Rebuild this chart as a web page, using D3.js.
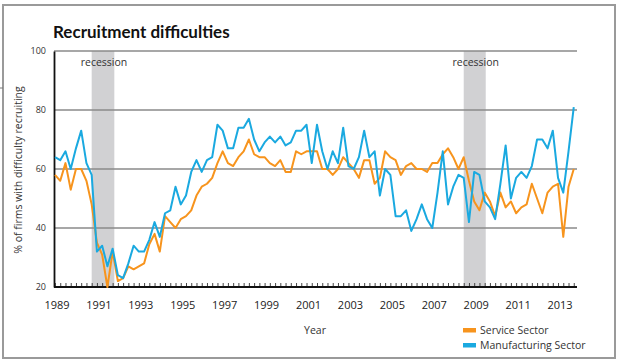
<!DOCTYPE html>
<html><head><meta charset="utf-8">
<script src="https://cdn.jsdelivr.net/npm/d3@7"></script>
<style>body{margin:0;background:#fff}svg{display:block}</style>
</head><body><svg id="c" width="620" height="360"></svg>
<script>
const startYear = 1989;
const seriesNames = ["Service Sector", "Manufacturing Sector"];
const service = [58,56,62,53,60,60,56,48,35,31,20,32,22,23,27,26,27,28,34.5,38,
  32,44,42,40,43,44,46,51,54,55,57,62,66,62,61,64,66,70,65,64,
  64,62,61,63,59,59,66,65,66,66,66,60,60,58,60,64,62,60,57,63,
  63,55,57,66,64,63,58,61,62,60,60,59,62,62,65,67,64,60,64,56,
  49,46,52,49,44,52,47,49,45,47,48,55,50,45,52,54,55,37,54,60];
const manufacturing = [64,63,66,60,67,73,62,58,32,34,27,33,24,23,28,34,32,32,36,42,
  37,45,46,54,48,51,59,63,59,63,64,75,73,67,67,74,74,77,70,66,
  69,71,69,71,68,69,73,73,75,62,75,66,60,66,62,74,61,60,64,73,
  64,66,51,60,58,44,44,46,39,43,48,43,40,52,66,48,54,58,57,42,
  59,58,49,47,43,55,68,50,57,59,57,61,70,70,67,73,57,52,66,81];
const yTicks = [20,40,60,80,100];
const gridValues = [40,60,80,100];
const yearLabels = [1989,1991,1993,1995,1997,1999,2001,2003,2005,2007,2009,2011,2013];
const recessions = [[1990.75,1991.83],[2008.5,2009.55]];
const colors = ["#f7941d", "#1aa9e0"];

const svg = d3.select("#c");
const x = d3.scaleLinear().domain([1989, 2014]).range([55, 579]);
const y = d3.scaleLinear().domain([20, 100]).range([287, 51]);
const left = 54, right = 577;
const font = "'Open Sans', sans-serif";

// frame
svg.append("rect").attr("x",3).attr("y",5).attr("width",612).attr("height",353)
  .attr("fill","none").attr("stroke","#9a9a9a").attr("stroke-width",2);
svg.append("line").attr("x1",0).attr("x2",3).attr("y1",88).attr("y2",88)
  .attr("stroke","#777").attr("stroke-width",1);

// title
svg.append("text").attr("x",53).attr("y",38).text("Recruitment difficulties")
  .attr("font-family","'Lato', sans-serif").attr("font-weight",700)
  .attr("font-size",17).attr("fill","#111");

// recession bands
svg.selectAll("rect.rec").data(recessions).enter().append("rect").attr("class","rec")
  .attr("x",d=>x(d[0])).attr("width",d=>x(d[1])-x(d[0]))
  .attr("y",y(100)).attr("height",y(20)-y(100)).attr("fill","#d1d1d3");
svg.selectAll("text.rec").data(recessions).enter().append("text").attr("class","rec")
  .attr("x",d=>(x(d[0])+x(d[1]))/2+1).attr("y",66).attr("text-anchor","middle")
  .attr("font-family",font).attr("font-size",10.5).attr("fill","#333").text("recession");

// gridlines
svg.selectAll("line.grid").data(gridValues).enter().append("line").attr("class","grid")
  .attr("x1",left).attr("x2",right).attr("y1",d=>y(d)).attr("y2",d=>y(d))
  .attr("stroke","#8a8a8a").attr("stroke-width",1.4);

// y axis
const yAxis = d3.axisLeft(y).tickValues(yTicks).tickSize(0).tickPadding(8);
const ya = svg.append("g").attr("transform",`translate(${left},0)`).call(yAxis);
ya.select(".domain").attr("stroke","#111").attr("stroke-width",1.8);
ya.selectAll("text").attr("font-family",font).attr("font-size",9).attr("fill","#333");

// x axis with quarterly ticks
const quarters = d3.range(service.length).map(i => startYear + i/4);
const xAxis = d3.axisTop(x).tickValues(quarters).tickSize(4).tickFormat("");
const xa = svg.append("g").attr("transform",`translate(0,${y(20)})`).call(xAxis);
xa.select(".domain").remove();
xa.selectAll(".tick line").attr("stroke","#333").attr("stroke-width",0.9);
svg.append("line").attr("x1",left).attr("x2",right).attr("y1",y(20)).attr("y2",y(20))
  .attr("stroke","#111").attr("stroke-width",1.8);
svg.selectAll("text.yr").data(yearLabels).enter().append("text").attr("class","yr")
  .attr("x",d=>x(d)+2).attr("y",309).attr("text-anchor","middle")
  .attr("font-family",font).attr("font-size",11).attr("fill","#222").text(d=>d);

// axis titles
svg.append("text").attr("transform","translate(22,170) rotate(-90)").attr("text-anchor","middle")
  .attr("font-family",font).attr("font-size",10.5).attr("fill","#333")
  .text("% of firms with difficulty recruiting");
svg.append("text").attr("x",315).attr("y",334).attr("text-anchor","middle")
  .attr("font-family",font).attr("font-size",10.5).attr("fill","#333").text("Year");

// lines
const line = d3.line().x((d,i)=>x(startYear + i/4)).y(d=>y(d));
[service, manufacturing].forEach((s,k) => {
  svg.append("path").datum(s).attr("d",line).attr("fill","none")
    .attr("stroke",colors[k]).attr("stroke-width",2).attr("stroke-linejoin","round");
});

// legend
const lg = svg.selectAll("g.lg").data(seriesNames).enter().append("g").attr("class","lg")
  .attr("transform",(d,i)=>`translate(463,${330 + i*15})`);
lg.append("rect").attr("x",0).attr("y",-2).attr("width",13).attr("height",4.5).attr("fill",(d,i)=>colors[i]);
lg.append("text").attr("x",17).attr("y",4).attr("font-family",font).attr("font-size",10.5)
  .attr("fill","#333").text(d=>d);
</script>
</body></html>
